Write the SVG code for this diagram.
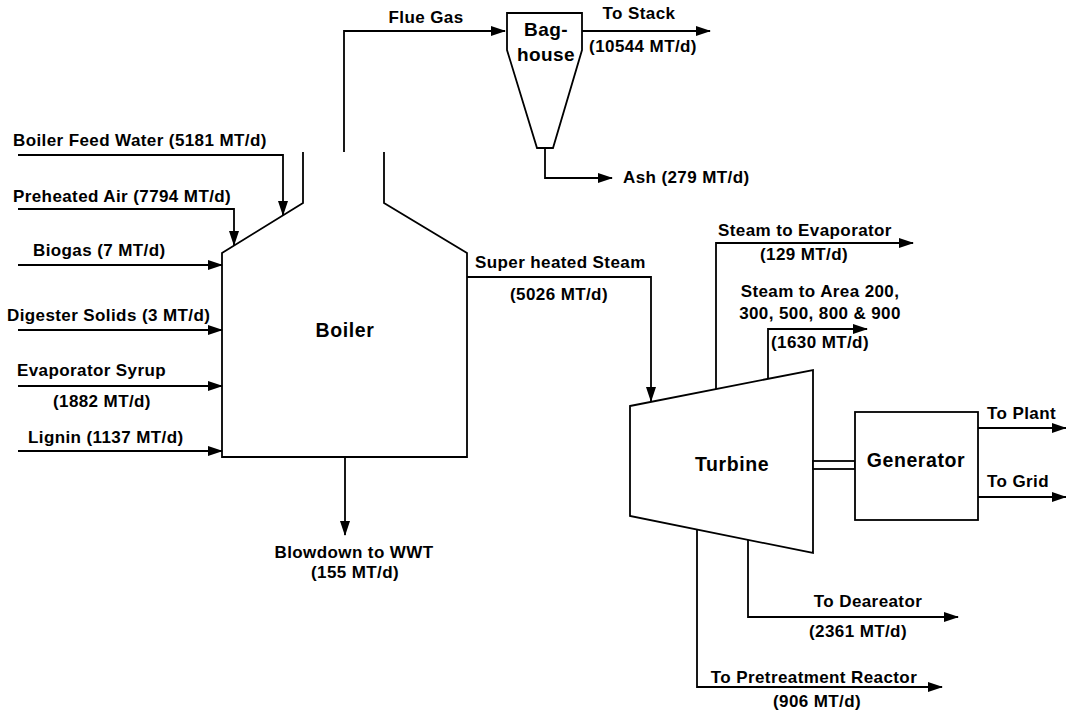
<svg xmlns="http://www.w3.org/2000/svg" width="1066" height="713" viewBox="0 0 1066 713">
<defs>
<marker id="arr" viewBox="0 0 15 10" refX="14" refY="5" markerWidth="15" markerHeight="10" markerUnits="userSpaceOnUse" orient="auto">
<path d="M0,0 L15,5 L0,10 z" fill="#000"/>
</marker>
<style>
.ln{fill:none;stroke:#000;stroke-width:1.8}
.sh{fill:#fff;stroke:#000;stroke-width:1.8}
.t{font-family:"Liberation Sans",Arial,sans-serif;font-weight:bold;font-size:17px;letter-spacing:0.4px;fill:#000}
.big{font-size:19.5px;letter-spacing:0.6px}
.m{text-anchor:middle}
</style>
</defs>
<rect width="1066" height="713" fill="#fff"/>

<g id="connectors">
<path class="ln" d="M344,152 V31 H505" marker-end="url(#arr)"/>
<path class="ln" d="M582,31 H710" marker-end="url(#arr)"/>
<path class="ln" d="M545,148 V178 H612" marker-end="url(#arr)"/>
<path class="ln" d="M18,155 H283 V215" marker-end="url(#arr)"/>
<path class="ln" d="M18,209 H234 V245" marker-end="url(#arr)"/>
<path class="ln" d="M18,265 H222" marker-end="url(#arr)"/>
<path class="ln" d="M18,330 H222" marker-end="url(#arr)"/>
<path class="ln" d="M18,386 H222" marker-end="url(#arr)"/>
<path class="ln" d="M18,451 H222" marker-end="url(#arr)"/>
<path class="ln" d="M345,457 V535" marker-end="url(#arr)"/>
<path class="ln" d="M467,277 H651 V401" marker-end="url(#arr)"/>
<path class="ln" d="M716,389 V243 H913" marker-end="url(#arr)"/>
<path class="ln" d="M768,379 V329 H867" marker-end="url(#arr)"/>
<path class="ln" d="M748,540 V617 H958" marker-end="url(#arr)"/>
<path class="ln" d="M697,525 V687 H942" marker-end="url(#arr)"/>
<path class="ln" d="M978,428 H1066" marker-end="url(#arr)"/>
<path class="ln" d="M978,497 H1066" marker-end="url(#arr)"/>
</g>

<g id="boiler">
<path class="ln" d="M303,152 V203 L222,253 V457 H467 V253 L384,203 V152"/>
<text class="t big m" x="345" y="337">Boiler</text>
</g>

<g id="baghouse">
<path class="sh" d="M507,13 H582 V50 L553,148 H537 L507,50 Z"/>
<text class="t m" x="546" y="36" style="font-size:19px">Bag-</text>
<text class="t m" x="546" y="61" style="font-size:19px">house</text>
</g>

<g id="turbine">
<path class="sh" d="M630,406 L813,370 V553 L630,516 Z"/>
<text class="t big m" x="732" y="471">Turbine</text>
</g>

<g id="shaft">
<rect class="sh" x="813" y="461" width="42" height="8"/>
</g>

<g id="generator">
<rect class="sh" x="855" y="412" width="123" height="108"/>
<text class="t big m" x="916" y="467">Generator</text>
</g>

<g id="labels">
<text class="t m" x="426" y="23">Flue Gas</text>
<text class="t m" x="639" y="19">To Stack</text>
<text class="t m" x="643" y="52">(10544 MT/d)</text>
<text class="t" x="623" y="183">Ash (279 MT/d)</text>
<text class="t" x="13" y="146">Boiler Feed Water (5181 MT/d)</text>
<text class="t" x="13" y="202">Preheated Air (7794 MT/d)</text>
<text class="t" x="33" y="256">Biogas (7 MT/d)</text>
<text class="t" x="7" y="321">Digester Solids (3 MT/d)</text>
<text class="t" x="17" y="376">Evaporator Syrup</text>
<text class="t" x="53" y="407">(1882 MT/d)</text>
<text class="t" x="28" y="443">Lignin (1137 MT/d)</text>
<text class="t m" x="354" y="558">Blowdown to WWT</text>
<text class="t m" x="355" y="578">(155 MT/d)</text>
<text class="t" x="475" y="268">Super heated Steam</text>
<text class="t m" x="559" y="300">(5026 MT/d)</text>
<text class="t" x="718" y="236">Steam to Evaporator</text>
<text class="t m" x="804" y="260">(129 MT/d)</text>
<text class="t m" x="820" y="297">Steam to Area 200,</text>
<text class="t m" x="820" y="319">300, 500, 800 &amp; 900</text>
<text class="t m" x="820" y="348">(1630 MT/d)</text>
<text class="t" x="987" y="419">To Plant</text>
<text class="t" x="987" y="487">To Grid</text>
<text class="t m" x="868" y="607">To Deareator</text>
<text class="t m" x="858" y="637">(2361 MT/d)</text>
<text class="t m" x="814" y="683">To Pretreatment Reactor</text>
<text class="t m" x="817" y="707">(906 MT/d)</text>
</g>
</svg>
